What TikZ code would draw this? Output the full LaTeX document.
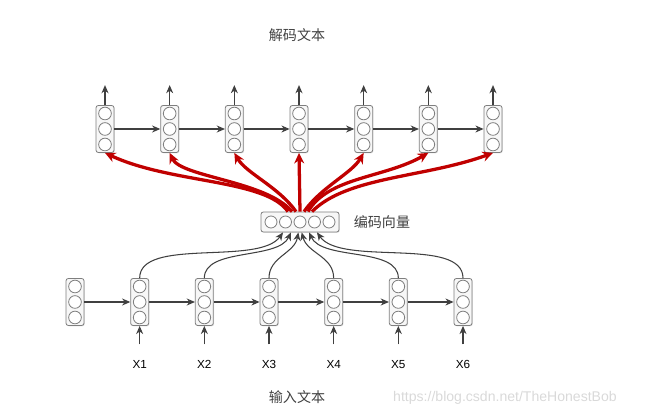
\documentclass[tikz,border=0pt]{standalone}
\usepackage{fontspec}
\setmainfont{Liberation Sans}
\newfontfamily\cjk{Noto Sans CJK SC}
\usetikzlibrary{arrows.meta,positioning,shadows}
\definecolor{linegray}{HTML}{404040}
\definecolor{boxgray}{HTML}{7F7F7F}
\definecolor{darkred}{HTML}{C00000}

\begin{document}
\begin{tikzpicture}[->,>={Stealth[length=7pt,width=6pt]},line width=0.9pt,draw=linegray,
            node distance=1.94cm,font={\fontsize{10pt}{12}\selectfont},
            cell/.style={draw=boxgray,fill=gray!6,rounded corners=2pt,line width=0.7pt,
                minimum width=0.54cm,minimum height=1.41cm,inner sep=0pt,
                drop shadow={opacity=0.2,shadow xshift=0.7pt,shadow yshift=-0.7pt},
                path picture={\foreach \dy in {-0.465,0,0.465}
                    \draw[-,draw=boxgray,line width=0.7pt,fill=white] ([yshift=\dy cm]path picture bounding box.center) circle (0.19cm);}},
            vec/.style={draw=boxgray,fill=gray!6,rounded corners=2pt,line width=0.7pt,
                minimum width=2.34cm,minimum height=0.6cm,inner sep=0pt,
                drop shadow={opacity=0.2,shadow xshift=0.7pt,shadow yshift=-0.7pt},
                path picture={\foreach \dx in {-0.87,-0.435,0,0.435,0.87}
                    \draw[-,draw=boxgray,line width=0.7pt,fill=white] ([xshift=\dx cm]path picture bounding box.center) circle (0.18cm);}},
            redarrow/.style={draw=darkred,line width=2.8pt,>={Stealth[length=9pt,width=8.5pt]}},
            cjktext/.style={font={\cjk\fontsize{12pt}{14}\selectfont},text=black!75}]
    \useasboundingbox (0,0) rectangle (19.47,-12.45);
    % decoder row
    \node[cell]     (d1)    at (3.15,-3.87)     {};
    \node[cell]     (d2)    [right of = d1]     {};
    \node[cell]     (d3)    [right of = d2]     {};
    \node[cell]     (d4)    [right of = d3]     {};
    \node[cell]     (d5)    [right of = d4]     {};
    \node[cell]     (d6)    [right of = d5]     {};
    \node[cell]     (d7)    [right of = d6]     {};
    \path   (d1) edge (d2)
            (d2) edge (d3)
            (d3) edge (d4)
            (d4) edge (d5)
            (d5) edge (d6)
            (d6) edge (d7);
    \foreach \i in {1,...,7} {
        \coordinate (o\i) at ([yshift=0.6cm]d\i.north);
        \draw (d\i.north) -- (o\i);
    }
    % encoder row
    \node[cell]     (e0)    at (2.25,-9.06)     {};
    \node[cell]     (e1)    [right of = e0]     {};
    \node[cell]     (e2)    [right of = e1]     {};
    \node[cell]     (e3)    [right of = e2]     {};
    \node[cell]     (e4)    [right of = e3]     {};
    \node[cell]     (e5)    [right of = e4]     {};
    \node[cell]     (e6)    [right of = e5]     {};
    \path   (e0) edge (e1)
            (e1) edge (e2)
            (e2) edge (e3)
            (e3) edge (e4)
            (e4) edge (e5)
            (e5) edge (e6);
    \foreach \i in {1,...,6} {
        \node (x\i) at ([yshift=-1.17cm]e\i.south) {X\i};
        \draw[shorten <=0.36cm] (x\i) -- (e\i);
    }
    % context vector
    \node[vec]      (enc)   at (9.0,-6.66)      {};
    \node[cjktext]  (enclabel) [right=0.3cm of enc] {编码向量};
    \node[cjktext]  (outlabel) at (8.91,-1.05)  {解码文本};
    \node[cjktext]  (inlabel)  at (8.91,-11.91) {输入文本};
    \node[text=gray!30,font={\fontsize{12pt}{14}\selectfont}] (mark) at (15.15,-11.94) {https://blog.csdn.net/TheHonestBob};
    % into the vector
    \draw (e1.north) to[out=90,in=235,looseness=0.7] ([xshift=-0.51cm]enc.south);
    \draw (e2.north) to[out=90,in=245,looseness=0.8] ([xshift=-0.27cm]enc.south);
    \draw (e3.north) to[out=90,in=260] ([xshift=-0.05cm]enc.south);
    \draw (e4.north) to[out=90,in=285] ([xshift=0.05cm]enc.south);
    \draw (e5.north) to[out=90,in=295,looseness=0.8] ([xshift=0.27cm]enc.south);
    \draw (e6.north) to[out=90,in=305,looseness=0.7] ([xshift=0.51cm]enc.south);
    % out of the vector
    \draw[redarrow] ([xshift=-0.36cm]enc.north) .. controls +(125:1.2) and +(-25:2.2) .. (d1.south);
    \draw[redarrow] ([xshift=-0.24cm]enc.north) .. controls +(130:1.2) and +(-65:0.8) .. (d2.south);
    \draw[redarrow] ([xshift=-0.12cm]enc.north) .. controls +(125:0.9) and +(-60:0.7) .. (d3.south);
    \draw[redarrow] (enc.north) -- (d4.south);
    \draw[redarrow] ([xshift=0.12cm]enc.north) .. controls +(55:0.9) and +(240:0.7) .. (d5.south);
    \draw[redarrow] ([xshift=0.24cm]enc.north) .. controls +(60:1.2) and +(210:1.5) .. (d6.south);
    \draw[redarrow] ([xshift=0.36cm]enc.north) .. controls +(45:1.5) and +(200:2.2) .. (d7.south);
\end{tikzpicture}
\end{document}
